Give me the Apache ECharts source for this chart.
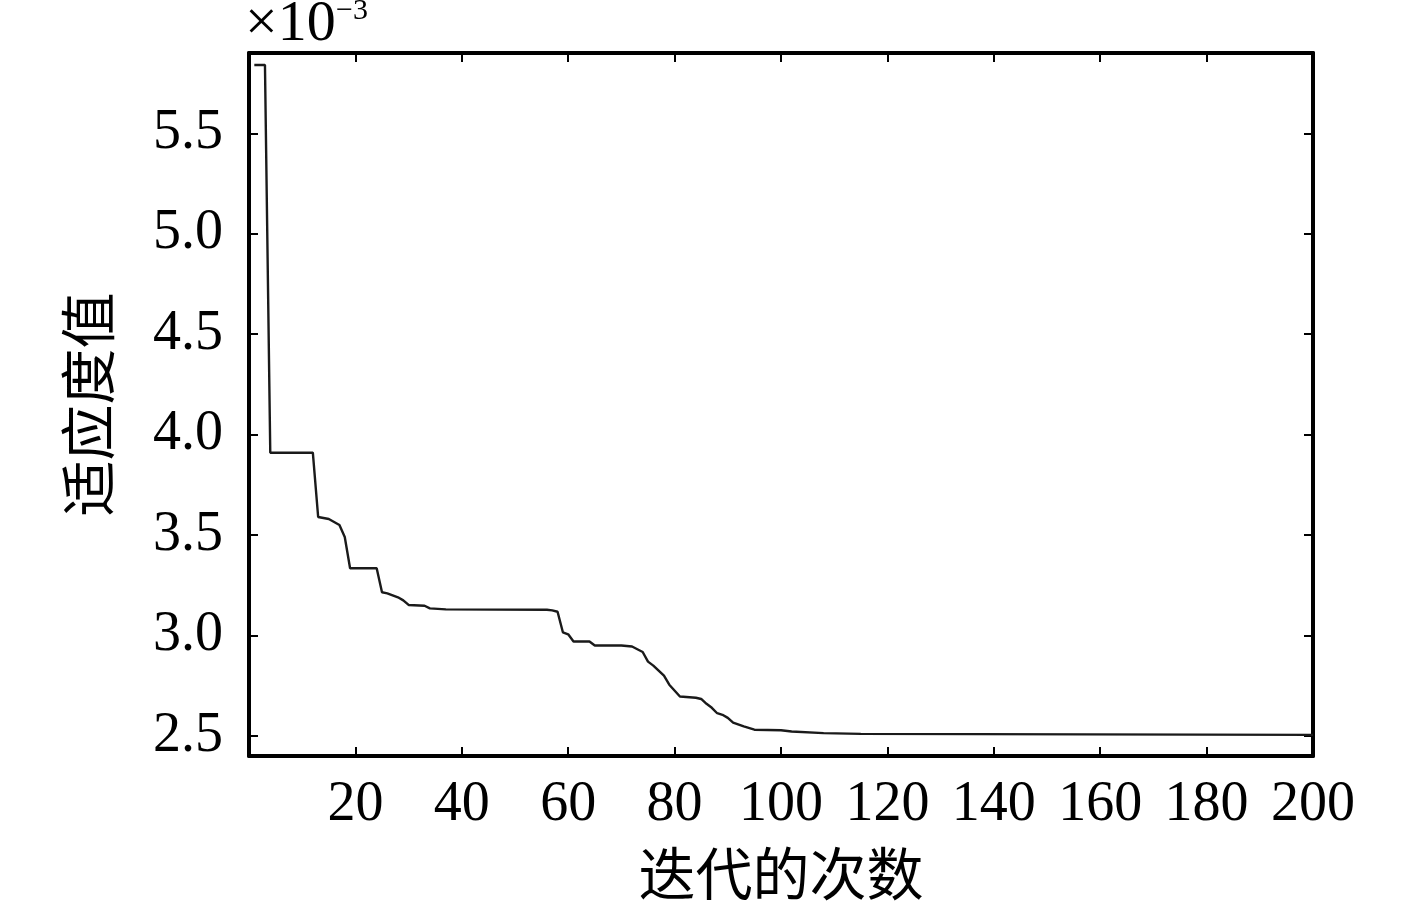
<!DOCTYPE html>
<html>
<head>
<meta charset="utf-8">
<script src="https://cdn.jsdelivr.net/npm/echarts@6/dist/echarts.min.js"></script>
<style>html,body{margin:0;padding:0;background:#fff;}#c{width:1417px;height:907px;}</style>
</head>
<body>
<div id="c"></div>
<script>
// Breakpoints of the best-fitness curve (iteration, fitness ×10^-3)
const iterations = [1,3,4,12,13,15,16,17,18,19,24,25,26,27,28,29,30,33,34,37,56,57,58,59,60,61,64,65,70,72,74,75,76,78,79,81,84,85,86,87,88,89,90,91,93,95,100,102,108,115,200];
const fitness = [5.84,5.84,3.91,3.91,3.59,3.58,3.565,3.55,3.49,3.335,3.335,3.215,3.21,3.2,3.19,3.175,3.152,3.148,3.135,3.13,3.128,3.125,3.118,3.016,3.006,2.97,2.97,2.95,2.95,2.945,2.918,2.87,2.85,2.8,2.755,2.696,2.69,2.684,2.66,2.64,2.613,2.605,2.59,2.566,2.547,2.531,2.528,2.522,2.514,2.51,2.505];
const yTicks = [2.5,3.0,3.5,4.0,4.5,5.0,5.5];
const xTicks = [20,40,60,80,100,120,140,160,180,200];
const xName = '迭代的次数';
const yName = '适应度值';

const serif = '"Liberation Serif","Times New Roman",serif';
const cjk = '"Noto Sans CJK SC","Noto Sans CJK JP",sans-serif';
const lineCol = '#000';

const chart = echarts.init(document.getElementById('c'));
const axisCommonX = {
  type: 'value', min: 0, max: 200, interval: 20,
  axisLine: {show: true, onZero: false, lineStyle: {color: lineCol, width: 4}},
  axisTick: {show: true, inside: true, length: 9, lineStyle: {color: lineCol, width: 2}},
  splitLine: {show: false}
};
const axisCommonY = {
  type: 'value', min: 2.4, max: 5.9,
  axisLine: {show: true, onZero: false, lineStyle: {color: lineCol, width: 4}},
  axisTick: {show: true, inside: true, length: 9, customValues: yTicks, lineStyle: {color: lineCol, width: 2}},
  splitLine: {show: false}
};
chart.setOption({
  animation: false,
  backgroundColor: '#fff',
  grid: {left: 249, right: 104, top: 53, bottom: 146, containLabel: false},
  xAxis: [
    Object.assign({}, axisCommonX, {
      position: 'bottom',
      name: xName, nameLocation: 'middle', nameGap: 89,
      nameTextStyle: {fontFamily: cjk, fontSize: 57, color: '#000'},
      axisLabel: {show: true, margin: 21, fontFamily: serif, fontSize: 56, color: '#000',
        showMinLabel: false, formatter: v => xTicks.includes(v) ? String(v) : ''}
    }),
    Object.assign({}, axisCommonX, {position: 'top', axisLabel: {show: false}})
  ],
  yAxis: [
    Object.assign({}, axisCommonY, {
      position: 'left',
      name: yName, nameLocation: 'middle', nameGap: 133, nameRotate: 90,
      nameTextStyle: {fontFamily: cjk, fontSize: 56, color: '#000'},
      axisLabel: {show: true, margin: 26, fontFamily: serif, fontSize: 56, color: '#000',
        customValues: yTicks, formatter: v => v.toFixed(1)}
    }),
    Object.assign({}, axisCommonY, {position: 'right', axisLabel: {show: false}})
  ],
  graphic: [
    {type: 'text', left: 245, top: -4, z: 10,
      style: {text: '×10', font: '58px ' + serif, fill: '#000', verticalAlign: 'top'}},
    {type: 'text', left: 336, top: -4, z: 10,
      style: {text: '−3', font: '30px ' + serif, fill: '#000', verticalAlign: 'top'}}
  ],
  series: [{
    type: 'line',
    xAxisIndex: 0, yAxisIndex: 0,
    data: iterations.map((x, i) => [x, fitness[i]]),
    showSymbol: false,
    lineStyle: {color: '#1a1a1a', width: 2.4},
    clip: true
  }]
});
</script>
</body>
</html>
